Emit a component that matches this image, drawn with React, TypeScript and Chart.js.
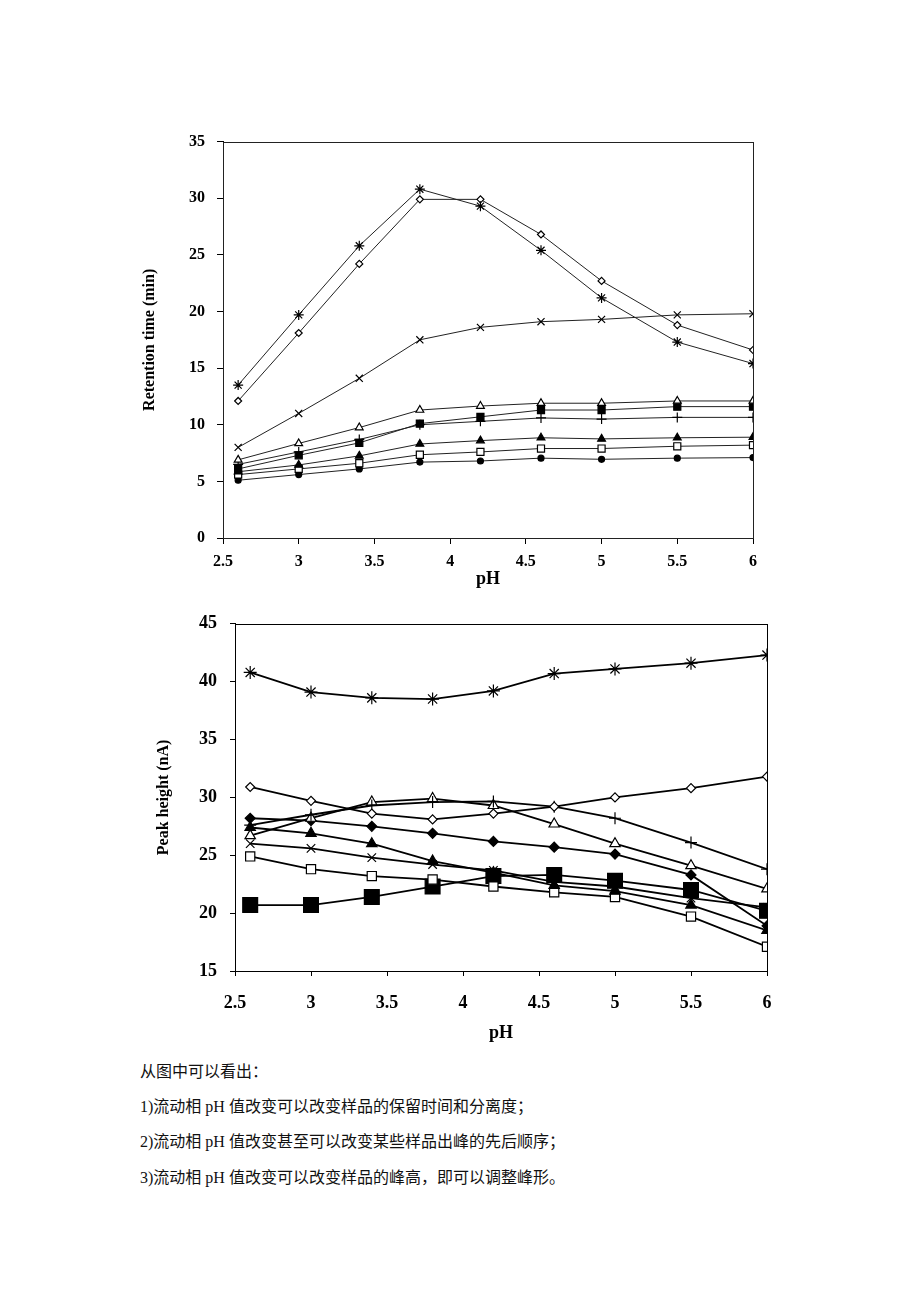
import React, { useEffect, useRef } from 'react';
import { Chart, registerables } from 'chart.js';
Chart.register(...registerables);

// pH values of the measured points
const PH = [2.6, 3.0, 3.4, 3.8, 4.2, 4.6, 5.0, 5.5, 6.0];

// Chart 1: retention time (min)
const rtStar = [13.5, 19.7, 25.8, 30.8, 29.3, 25.4, 21.2, 17.3, 15.4];
const rtDiamondOpen = [12.1, 18.1, 24.2, 29.9, 29.9, 26.8, 22.7, 18.8, 16.6];
const rtCross = [8.0, 11.0, 14.1, 17.5, 18.6, 19.1, 19.3, 19.7, 19.8];
const rtTriOpen = [6.9, 8.35, 9.75, 11.3, 11.65, 11.9, 11.9, 12.1, 12.1];
const rtSquareFilled = [6.1, 7.3, 8.4, 10.1, 10.7, 11.3, 11.3, 11.6, 11.6];
const rtPlus = [6.5, 7.6, 8.7, 10.0, 10.3, 10.6, 10.5, 10.65, 10.65];
const rtTriFilled = [5.85, 6.45, 7.25, 8.3, 8.6, 8.85, 8.75, 8.85, 8.9];
const rtSquareOpen = [5.6, 6.1, 6.6, 7.35, 7.6, 7.9, 7.9, 8.1, 8.2];
const rtDot = [5.1, 5.6, 6.1, 6.7, 6.8, 7.05, 6.95, 7.05, 7.1];

// Chart 2: peak height (nA)
const phStar = [40.8, 39.1, 38.6, 38.5, 39.2, 40.7, 41.1, 41.6, 42.3];
const phDiamondOpen = [30.9, 29.7, 28.6, 28.1, 28.6, 29.2, 30.0, 30.8, 31.8];
const phPlus = [27.6, 28.5, 29.3, 29.6, 29.65, 29.2, 28.2, 26.1, 23.8];
const phTriOpen = [26.7, 28.2, 29.6, 29.9, 29.3, 27.7, 26.0, 24.1, 22.1];
const phDiamondFilled = [28.2, 28.0, 27.5, 26.9, 26.2, 25.7, 25.1, 23.3, 18.9];
const phTriFilled = [27.4, 26.9, 26.0, 24.5, 23.5, 22.4, 21.9, 20.7, 18.5];
const phCross = [26.0, 25.6, 24.8, 24.2, 23.7, 22.7, 22.3, 21.3, 20.5];
const phSquareOpen = [24.9, 23.8, 23.2, 22.9, 22.3, 21.8, 21.4, 19.7, 17.1];
const phSquareBig = [20.7, 20.7, 21.4, 22.3, 23.2, 23.3, 22.8, 22.0, 20.2];

const xTickValues = [2.5, 3, 3.5, 4, 4.5, 5, 5.5, 6];

const SERIF = '"Liberation Serif", "DejaVu Serif", serif';

const boxPlugin = {
  id: 'box',
  afterDraw(chart: any, _args: any, opts: any) {
    const { ctx, chartArea: a } = chart;
    ctx.save();
    ctx.strokeStyle = opts.color || '#000';
    ctx.lineWidth = opts.width || 1;
    ctx.strokeRect(Math.round(a.left) + 0.5, Math.round(a.top) + 0.5, Math.round(a.right - a.left), Math.round(a.bottom - a.top));
    ctx.restore();
  },
};

const toXY = (ys: number[]) => ys.map((y, i) => ({ x: PH[i], y }));

type Spec = { data: number[]; style: string; fill: boolean; r: number };

function makeDatasets(specs: Spec[], lineColor: string, lineWidth: number) {
  return specs.map((s) => ({
    data: toXY(s.data),
    showLine: true,
    borderColor: lineColor,
    borderWidth: lineWidth,
    tension: 0,
    pointStyle: s.style,
    pointRadius: s.r,
    pointHoverRadius: s.r,
    pointBackgroundColor: s.fill ? '#000' : '#fff',
    pointBorderColor: '#000',
    pointBorderWidth: 1.2,
  }));
}

function makeOptions(cfg: any) {
  return {
    animation: false,
    responsive: false,
    layout: { padding: { top: cfg.padTop, right: cfg.padRight, left: 0, bottom: 0 } },
    plugins: {
      legend: { display: false },
      tooltip: { enabled: false },
      box: { color: cfg.boxColor, width: 1 },
    },
    scales: {
      x: {
        type: 'linear',
        min: 2.5,
        max: 6,
        afterBuildTicks: (s: any) => {
          s.ticks = xTickValues.map((v) => ({ value: v }));
        },
        afterFit: (s: any) => {
          s.height = cfg.xHeight;
        },
        ticks: {
          autoSkip: false,
          maxRotation: 0,
          padding: cfg.xTickPad,
          color: '#000',
          font: { family: SERIF, size: cfg.tickSize, weight: 'bold' },
          callback: (v: any) => String(v),
        },
        grid: { drawOnChartArea: false, drawTicks: true, tickLength: cfg.tickLen, color: '#000' },
        border: { display: true, color: '#000' },
        title: {
          display: true,
          text: 'pH',
          color: '#000',
          font: { family: SERIF, size: cfg.titleSize, weight: 'bold' },
          padding: { top: 0, bottom: cfg.xTitlePad },
        },
      },
      y: {
        type: 'linear',
        min: cfg.yMin,
        max: cfg.yMax,
        afterFit: (s: any) => {
          s.width = cfg.yWidth;
        },
        ticks: {
          stepSize: 5,
          padding: cfg.yTickPad,
          color: '#000',
          font: { family: SERIF, size: cfg.tickSize, weight: 'bold' },
        },
        grid: { drawOnChartArea: false, drawTicks: true, tickLength: cfg.tickLen, color: '#000' },
        border: { display: true, color: '#000' },
        title: {
          display: true,
          text: cfg.yTitle,
          color: '#000',
          font: { family: SERIF, size: cfg.yTitleSize, weight: 'bold' },
          padding: { top: cfg.yTitlePad, bottom: 0 },
        },
      },
    },
  };
}

function ChartCanvas(props: { left: number; top: number; width: number; height: number; config: any }) {
  const ref = useRef<HTMLCanvasElement | null>(null);
  useEffect(() => {
    if (!ref.current) return;
    const chart = new Chart(ref.current, props.config);
    return () => chart.destroy();
  }, []);
  return (
    <canvas
      ref={ref}
      width={props.width}
      height={props.height}
      style={{ position: 'absolute', left: props.left, top: props.top, width: props.width, height: props.height }}
    />
  );
}

const chart1Specs: Spec[] = [
  { data: rtStar, style: 'star', fill: false, r: 5 },
  { data: rtDiamondOpen, style: 'rectRot', fill: false, r: 3.5 },
  { data: rtCross, style: 'crossRot', fill: false, r: 5 },
  { data: rtTriOpen, style: 'triangle', fill: false, r: 4.5 },
  { data: rtSquareFilled, style: 'rect', fill: true, r: 5 },
  { data: rtPlus, style: 'cross', fill: false, r: 5 },
  { data: rtTriFilled, style: 'triangle', fill: true, r: 4.5 },
  { data: rtSquareOpen, style: 'rect', fill: false, r: 5 },
  { data: rtDot, style: 'circle', fill: true, r: 3 },
];

const chart2Specs: Spec[] = [
  { data: phStar, style: 'star', fill: false, r: 6.5 },
  { data: phDiamondOpen, style: 'rectRot', fill: false, r: 4.5 },
  { data: phPlus, style: 'cross', fill: false, r: 6 },
  { data: phTriOpen, style: 'triangle', fill: false, r: 6 },
  { data: phDiamondFilled, style: 'rectRot', fill: true, r: 5 },
  { data: phTriFilled, style: 'triangle', fill: true, r: 6 },
  { data: phCross, style: 'crossRot', fill: false, r: 6 },
  { data: phSquareOpen, style: 'rect', fill: false, r: 6.5 },
  { data: phSquareBig, style: 'rect', fill: true, r: 10.5 },
];

const chart1Config = {
  type: 'scatter',
  data: { datasets: makeDatasets(chart1Specs, '#222', 1) },
  options: makeOptions({
    padTop: 16, padRight: 27, xHeight: 62, yWidth: 93,
    tickLen: 6, xTickPad: 8, yTickPad: 12, tickSize: 16, titleSize: 18,
    xTitlePad: 10, yTitle: 'Retention time (min)', yTitleSize: 16, yTitlePad: 10,
    yMin: 0, yMax: 35, boxColor: '#222',
  }),
  plugins: [boxPlugin],
};

const chart2Config = {
  type: 'scatter',
  data: { datasets: makeDatasets(chart2Specs, '#000', 1.8) },
  options: makeOptions({
    padTop: 23, padRight: 23, xHeight: 79, yWidth: 105,
    tickLen: 5, xTickPad: 17, yTickPad: 13, tickSize: 18, titleSize: 18,
    xTitlePad: 6, yTitle: 'Peak height (nA)', yTitleSize: 16, yTitlePad: 24,
    yMin: 15, yMax: 45, boxColor: '#000',
  }),
  plugins: [boxPlugin],
};

const textLines = [
  '从图中可以看出：',
  '1)流动相 pH 值改变可以改变样品的保留时间和分离度；',
  '2)流动相 pH 值改变甚至可以改变某些样品出峰的先后顺序；',
  '3)流动相 pH 值改变可以改变样品的峰高，即可以调整峰形。',
];
const textTops = [1062, 1097, 1132, 1168];

export default function App() {
  return (
    <div style={{ position: 'absolute', left: 0, top: 0, width: 920, height: 1302, background: '#fff', overflow: 'hidden' }}>
      <ChartCanvas left={130} top={120} width={650} height={480} config={chart1Config} />
      <ChartCanvas left={130} top={600} width={660} height={450} config={chart2Config} />
      {textLines.map((t, i) => (
        <div
          key={i}
          style={{
            position: 'absolute',
            left: 140,
            top: textTops[i],
            fontFamily: '"Liberation Serif", "Noto Sans CJK SC", serif',
            fontSize: 16,
            lineHeight: '20px',
            color: '#111',
            whiteSpace: 'nowrap',
          }}
        >
          {t}
        </div>
      ))}
    </div>
  );
}
